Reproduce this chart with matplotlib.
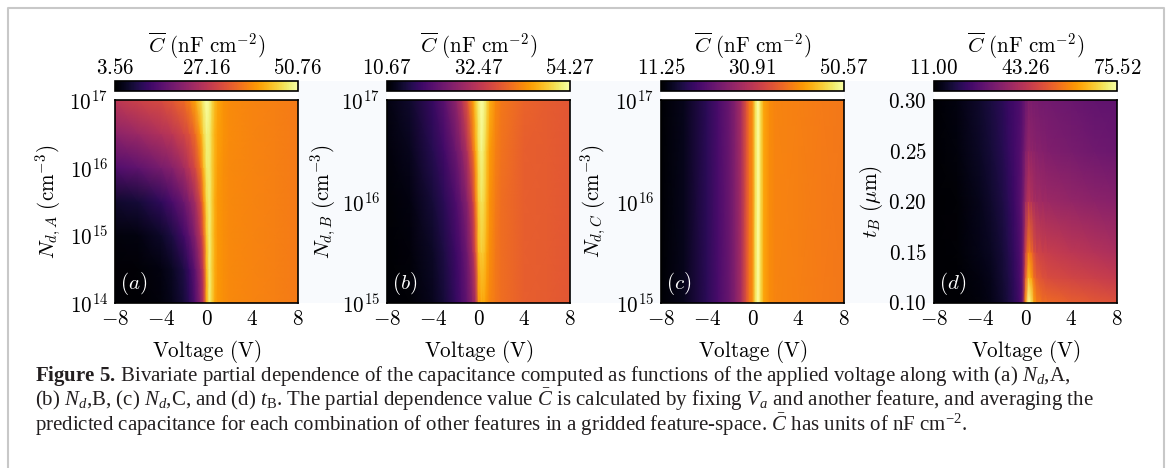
import numpy as np
import matplotlib
matplotlib.use("Agg")
import matplotlib.pyplot as plt
from matplotlib.patches import Rectangle
from matplotlib.lines import Line2D
from matplotlib.ticker import FixedLocator, FixedFormatter, NullLocator

plt.rcParams.update({
    "mathtext.fontset": "cm",
    "mathtext.rm": "Liberation Serif",
    "mathtext.it": "Liberation Serif:italic",
    "mathtext.bf": "Liberation Serif:bold",
    "font.family": "DejaVu Serif",
})

# ---------------------------------------------------------------- data
voltage = [-8, -6, -4, -3, -2, -1.5, -1, -0.5, -0.25, 0, 0.25, 0.5, 0.75, 1, 1.5, 2, 4, 6, 8]

# (a) donor density of layer A (log10 cm^-3)
log_nd_a = [14, 14.5, 15, 15.5, 16, 16.5, 17]
cap_a = [
    [3.56, 3.6, 4.5, 5.9, 8.3, 10.6, 14.9, 21.5, 27.2, 41.3, 48.4, 45.1, 41.3, 39.9, 39.0, 38.5, 38.0, 37.5, 37.1],
    [3.8, 4.0, 5.0, 6.4, 9.2, 12.1, 16.3, 23.4, 29.5, 42.3, 48.4, 45.1, 41.8, 39.9, 39.0, 38.5, 38.0, 37.5, 37.1],
    [4.5, 5.0, 6.9, 9.2, 13.0, 16.3, 20.6, 27.2, 33.8, 44.2, 48.4, 45.1, 41.8, 39.9, 39.0, 38.5, 38.0, 37.5, 37.1],
    [7.3, 8.3, 11.1, 14.0, 17.7, 20.6, 24.3, 30.9, 38.5, 46.0, 48.4, 45.1, 41.8, 39.9, 39.0, 38.5, 38.0, 37.5, 37.1],
    [14.9, 16.3, 19.1, 21.0, 24.3, 27.2, 30.5, 36.6, 43.2, 47.9, 48.4, 45.1, 42.3, 40.4, 39.0, 38.5, 38.0, 37.5, 37.1],
    [21.5, 23.4, 25.7, 27.2, 30.0, 31.9, 35.2, 41.3, 46.0, 48.9, 48.4, 45.1, 42.3, 40.8, 39.4, 38.7, 38.0, 37.5, 37.1],
    [27.2, 29.5, 30.9, 32.8, 35.2, 37.5, 41.3, 46.0, 48.9, 50.76, 49.3, 46.0, 43.2, 41.3, 39.4, 38.7, 38.0, 37.5, 37.1],
]

# (b) donor density of layer B (log10 cm^-3)
log_nd_b = [15, 15.5, 16, 16.5, 17]
cap_b = [
    [10.67, 11.1, 12.9, 15.0, 18.1, 20.3, 22.9, 27.2, 30.3, 43.4, 45.55, 45.55, 43.8, 42.5, 41.2, 40.3, 38.6, 38.1, 37.7],
    [10.7, 11.5, 13.7, 15.9, 19.0, 21.1, 24.2, 30.3, 36.8, 47.3, 49.0, 48.2, 45.55, 43.4, 41.2, 40.3, 38.6, 38.1, 37.7],
    [11.1, 12.0, 15.0, 17.2, 20.7, 23.3, 26.8, 33.8, 41.2, 49.0, 51.2, 49.9, 46.9, 43.8, 41.6, 40.3, 38.6, 38.1, 37.7],
    [11.5, 12.9, 16.8, 19.4, 23.7, 26.8, 31.2, 39.4, 45.55, 50.8, 53.0, 51.2, 47.7, 44.7, 42.1, 40.8, 38.6, 38.1, 37.7],
    [12.0, 14.2, 18.5, 22.0, 27.2, 31.2, 36.8, 44.7, 49.0, 52.1, 54.27, 53.0, 49.9, 46.4, 42.9, 41.2, 39.0, 38.1, 37.7],
]

# (c) donor density of layer C (log10 cm^-3)
log_nd_c = [15, 17]
cap_c = [
    [11.25, 13.2, 17.1, 19.9, 23.0, 25.4, 28.9, 35.6, 38.8, 40.3, 47.4, 50.57, 46.6, 42.7, 40.7, 39.95, 39.6, 39.2, 38.8],
    [11.25, 13.2, 17.1, 19.9, 23.0, 25.4, 28.9, 35.6, 38.8, 40.3, 47.4, 50.57, 46.6, 42.7, 40.7, 39.95, 39.6, 39.2, 38.8],
]

# (d) thickness of layer B (um)
t_b = [0.10, 0.125, 0.15, 0.20, 0.25, 0.30]
cap_d = [
    [11.00, 11.0, 12.3, 13.6, 16.2, 18.1, 20.7, 24.5, 30.4, 59.4, 75.52, 72.3, 62.6, 57.5, 54.9, 54.2, 52.3, 51.0, 49.7],
    [11.0, 11.0, 12.9, 14.2, 16.8, 18.7, 21.3, 25.2, 30.4, 51.0, 65.8, 62.6, 54.9, 51.6, 49.7, 48.4, 47.1, 45.8, 44.6],
    [11.0, 11.6, 13.6, 14.9, 17.5, 19.4, 22.0, 25.8, 30.4, 46.5, 57.5, 54.9, 49.7, 47.1, 45.8, 45.2, 43.3, 42.0, 40.7],
    [11.0, 11.6, 14.2, 16.2, 18.7, 20.7, 23.3, 27.1, 30.4, 38.1, 43.3, 42.0, 40.0, 39.4, 38.7, 38.1, 36.8, 35.5, 34.9],
    [11.0, 12.3, 15.5, 17.5, 20.0, 22.0, 23.9, 26.5, 29.1, 33.6, 36.8, 36.2, 35.5, 34.9, 34.2, 33.6, 32.3, 31.0, 30.4],
    [11.0, 12.9, 16.2, 18.1, 20.7, 22.6, 23.9, 25.8, 27.8, 30.4, 32.9, 32.9, 32.3, 32.3, 31.6, 31.6, 30.4, 29.1, 28.4],
]

voltage_ticks = [-8, -4, 0, 4, 8]
log_ticks_a = [14, 15, 16, 17]
log_ticks_bc = [15, 16, 17]
t_b_ticks = [0.10, 0.15, 0.20, 0.25, 0.30]

panels = [
    dict(y=10.0 ** np.array(log_nd_a), C=cap_a, log=True,
         ticks=[10.0 ** k for k in log_ticks_a],
         labels=[r"$10^{%d}$" % k for k in log_ticks_a],
         ylabel=r"$N_{d,A}\ (\mathrm{cm}^{-3})$", tag=r"$(a)$"),
    dict(y=10.0 ** np.array(log_nd_b), C=cap_b, log=True,
         ticks=[10.0 ** k for k in log_ticks_bc],
         labels=[r"$10^{%d}$" % k for k in log_ticks_bc],
         ylabel=r"$N_{d,B}\ (\mathrm{cm}^{-3})$", tag=r"$(b)$"),
    dict(y=10.0 ** np.array(log_nd_c), C=cap_c, log=True,
         ticks=[10.0 ** k for k in log_ticks_bc],
         labels=[r"$10^{%d}$" % k for k in log_ticks_bc],
         ylabel=r"$N_{d,C}\ (\mathrm{cm}^{-3})$", tag=r"$(c)$"),
    dict(y=np.array(t_b), C=cap_d, log=False,
         ticks=t_b_ticks,
         labels=[r"$%.2f$" % v for v in t_b_ticks],
         ylabel=r"$t_B\ (\mu\mathrm{m})$", tag=r"$(d)$"),
]

# ---------------------------------------------------------------- layout (pixels)
W, H = 1171, 468
fig = plt.figure(figsize=(W / 100, H / 100), dpi=100)
fig.patch.set_facecolor("white")


def frac(x0, y0, x1, y1):
    return [x0 / W, 1 - y1 / H, (x1 - x0) / W, (y1 - y0) / H]


lefts = [115, 387, 661, 934]
pw = 183
map_top, map_bot = 100, 303
cb_top, cb_bot = 81, 91
ylabel_x = [-0.28, -0.265, -0.285, -0.27]

# faint panel backdrop
fig.add_artist(Rectangle((115 / W, 1 - map_bot / H), (1118 - 115) / W, (map_bot - cb_top) / H,
                         transform=fig.transFigure, facecolor="#f8fafd", edgecolor="none", zorder=-2))
for x0 in lefts:
    fig.add_artist(Rectangle((x0 / W, 1 - map_top / H), pw / W, (map_top - cb_bot) / H,
                             transform=fig.transFigure, facecolor="white", edgecolor="none", zorder=-1))

FS = 15.2
for x0, p, lx in zip(lefts, panels, ylabel_x):
    ax = fig.add_axes(frac(x0, map_top, x0 + pw, map_bot))
    C = np.array(p["C"])
    vmin, vmax = C.min(), C.max()
    mesh = ax.pcolormesh(voltage, p["y"], C, cmap="inferno", shading="gouraud", vmin=vmin, vmax=vmax)
    if p["log"]:
        ax.set_yscale("log")
    ax.set_xlim(voltage[0], voltage[-1])
    ax.set_ylim(p["y"][0], p["y"][-1])
    ax.xaxis.set_major_locator(FixedLocator(voltage_ticks))
    ax.xaxis.set_major_formatter(FixedFormatter([r"$%d$" % v for v in voltage_ticks]))
    ax.yaxis.set_major_locator(FixedLocator(p["ticks"]))
    ax.yaxis.set_major_formatter(FixedFormatter(p["labels"]))
    ax.yaxis.set_minor_locator(NullLocator())
    ax.xaxis.set_minor_locator(NullLocator())
    ax.tick_params(length=0, labelsize=FS, pad=5)
    for s in ax.spines.values():
        s.set_linewidth(1.2)
    ax.set_xlabel(r"$\mathrm{Voltage\ (V)}$", fontsize=FS)
    ax.xaxis.set_label_coords(0.5, -0.17)
    ax.set_ylabel(p["ylabel"], fontsize=FS)
    ax.yaxis.set_label_coords(lx, 0.5)
    ax.text(0.03, 0.03, p["tag"], transform=ax.transAxes, color="white", fontsize=FS,
            ha="left", va="bottom")

    cax = fig.add_axes(frac(x0, cb_top, x0 + pw, cb_bot))
    cb = fig.colorbar(mesh, cax=cax, orientation="horizontal")
    mid = (vmin + vmax) / 2
    cb.set_ticks([vmin, mid, vmax])
    cb.set_ticklabels([r"$%.2f$" % v for v in (vmin, mid, vmax)])
    cax.xaxis.set_ticks_position("top")
    cax.xaxis.set_label_position("top")
    cax.tick_params(length=0, labelsize=FS, pad=2)
    cb.outline.set_linewidth(1.2)
    cb.set_label(r"$\overline{C}\ (\mathrm{nF\ cm}^{-2})$", fontsize=FS, labelpad=4)

# ---------------------------------------------------------------- caption and frame
fig.add_artist(Line2D([8 / W, 8 / W, 1164 / W, 1164 / W], [0, 1 - 8 / H, 1 - 8 / H, 0],
                      transform=fig.transFigure, color="#c8c8c8", lw=1.5))

caption = [
    r"$\mathbf{Figure\ 5.}\,$Bivariate partial dependence of the capacitance computed as functions "
    r"of the applied voltage along with (a) $N_d$,A,",
    r"(b) $N_d$,B, (c) $N_d$,C, and (d) $t_\mathrm{B}$. The partial dependence value $\bar{C}$ is "
    r"calculated by fixing $V_a$ and another feature, and averaging the",
    r"predicted capacitance for each combination of other features in a gridded feature-space. "
    r"$\bar{C}$ has units of nF cm$^{-2}$.",
]
baselines = [381, 406, 431]
for line, yb in zip(caption, baselines):
    t = fig.text(35 / W, 1 - yb / H, line, fontsize=15.0, family="Liberation Serif",
                 ha="left", va="baseline", color="#231f20")
    t.get_fontproperties().set_math_fontfamily("custom")

fig.savefig("out.png", dpi=100)
